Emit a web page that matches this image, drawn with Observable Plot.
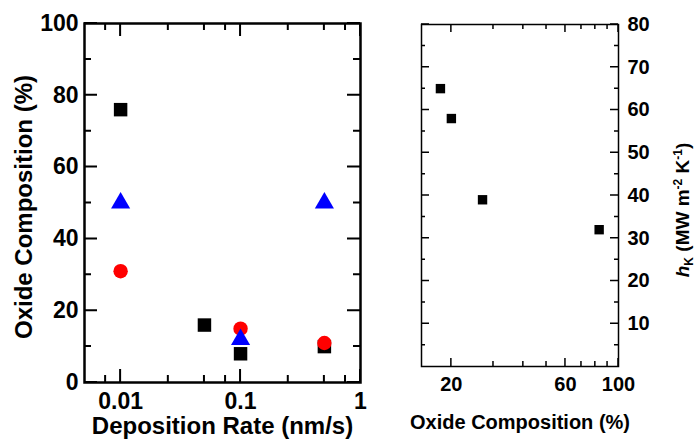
<!DOCTYPE html>
<html><head><meta charset="utf-8">
<script src="https://cdn.jsdelivr.net/npm/d3@7"></script>
<script src="https://cdn.jsdelivr.net/npm/@observablehq/plot@0.6"></script>
<style>
body{margin:0;background:#fff;}
#wrap{position:relative;width:697px;height:443px;overflow:hidden;background:#fff;}
#left,#right{position:absolute;top:0;}
#left{left:0;} #right{left:380px;}
</style></head><body>
<div id="wrap"><div id="left"></div><div id="right"></div></div>
<script>
// ---- Left panel data ----
const squareRate = [0.01, 0.05, 0.1, 0.5];
const squareComp = [76, 16, 8, 10];
const circleRate = [0.01, 0.1, 0.5];
const circleComp = [31, 15, 11];
const triRate = [0.01, 0.1, 0.5];
const triComp = [50, 12, 50];
const rateTicks = [0.01, 0.1, 1];
const rateMinor = [0.0075, 0.025, 0.05, 0.075, 0.25, 0.5, 0.75];
const compTicks = [0, 20, 40, 60, 80, 100];
const compMinor = [10, 30, 50, 70, 90];

// ---- Right panel data ----
const oxide = [18, 20, 27, 83];
const hK = [65, 58, 39, 32];
const oxideTicks = [20, 60, 100];
const oxideMinor = [30, 40, 50, 70, 80, 90];
const hTicks = [10, 20, 30, 40, 50, 60, 70, 80];
const hMinor = [5, 15, 25, 35, 45, 55, 65, 75];

const zip = (xs, ys) => xs.map((x, i) => ({x, y: ys[i]}));
const ident = d => d;
const fmt = d => `${d}`;

// ---- Left panel ----
const Lm = {top: 23, bottom: 61, left: 84, right: 40};
const leftSvg = Plot.plot({
  width: 400, height: 443,
  marginTop: Lm.top, marginBottom: Lm.bottom, marginLeft: Lm.left, marginRight: Lm.right,
  style: {fontFamily: "'Liberation Sans', Arial, sans-serif", fontSize: "23px", fontWeight: "bold", background: "white", color: "black", overflow: "visible"},
  x: {type: "log", domain: [0.005, 1], axis: null},
  y: {domain: [0, 100], axis: null},
  marks: [
    Plot.text(compTicks, {y: ident, text: fmt, frameAnchor: "left", textAnchor: "end", dx: -6, fontSize: 23, fontWeight: "bold"}),
    Plot.text(rateTicks, {x: ident, text: fmt, frameAnchor: "bottom", lineAnchor: "top", dy: 10, fontSize: 23, fontWeight: "bold"}),
    Plot.dot(zip(squareRate, squareComp), {x: "x", y: "y", symbol: "square", r: 7.6, fill: "black"}),
    Plot.dot(zip(circleRate, circleComp), {x: "x", y: "y", symbol: "circle", r: 7.2, fill: "#ff0000"}),
    Plot.dot(zip(triRate, triComp), {x: "x", y: "y", symbol: "triangle", r: 7.1, fill: "#0000ff"}),
    Plot.frame({stroke: "black", strokeWidth: 2.5}),
    Plot.text(["Deposition Rate (nm/s)"], {text: ident, frameAnchor: "bottom", lineAnchor: "bottom", dy: 51, fontSize: 24, fontWeight: "bold"}),
    Plot.text(["Oxide Composition (%)"], {text: ident, frameAnchor: "left", textAnchor: "middle", lineAnchor: "middle", rotate: -90, dx: -60, dy: 4, fontSize: 24, fontWeight: "bold"})
  ]
});
document.getElementById("left").appendChild(leftSvg);

// ---- Right panel ----
const Rm = {top: 24, bottom: 77, left: 41, right: 79};
const rightSvg = Plot.plot({
  width: 317, height: 443,
  marginTop: Rm.top, marginBottom: Rm.bottom, marginLeft: Rm.left, marginRight: Rm.right,
  style: {fontFamily: "'Liberation Sans', Arial, sans-serif", fontSize: "20px", fontWeight: "bold", background: "white", color: "black", overflow: "visible"},
  x: {type: "log", domain: [15, 100], axis: null},
  y: {domain: [0, 80], axis: null},
  marks: [
    Plot.text(hTicks, {y: ident, text: fmt, frameAnchor: "right", textAnchor: "start", dx: 9, fontSize: 20, fontWeight: "bold"}),
    Plot.text(oxideTicks, {x: ident, text: fmt, frameAnchor: "bottom", lineAnchor: "top", dy: 10, fontSize: 20, fontWeight: "bold"}),
    Plot.dot(zip(oxide, hK), {x: "x", y: "y", symbol: "square", r: 5.3, fill: "black"}),
    Plot.frame({stroke: "black", strokeWidth: 1.5}),
    Plot.text(["Oxide Composition (%)"], {text: ident, frameAnchor: "bottom", lineAnchor: "bottom", dy: 62, fontSize: 20, fontWeight: "bold"})
  ]
});
document.getElementById("right").appendChild(rightSvg);

// inward ticks drawn through each plot's own scales
function addTicks(svg, xMajor, xMinor, yMajor, yMinor, majLen, minLenX, minLenY, sw) {
  const sx = svg.scale("x"), sy = svg.scale("y");
  const [x0, x1] = sx.range, [y0, y1] = sy.range; // y0 = bottom, y1 = top
  let d = "";
  const vx = (vals, len) => vals.forEach(v => {
    const px = sx.apply(v);
    d += `M${px},${y0}V${y0 - len}M${px},${y1}V${y1 + len}`;
  });
  const vy = (vals, len) => vals.forEach(v => {
    const py = sy.apply(v);
    d += `M${x0},${py}H${x0 + len}M${x1},${py}H${x1 - len}`;
  });
  vx(xMajor, majLen); vx(xMinor, minLenX); vy(yMajor, majLen); vy(yMinor, minLenY);
  d3.select(svg).append("path").attr("d", d).attr("fill", "none")
    .attr("stroke", "#000").attr("stroke-width", sw).style("stroke", "#000");
}
addTicks(leftSvg, rateTicks, rateMinor, compTicks, compMinor, 13, 7, 7, 2);
addTicks(rightSvg, oxideTicks, oxideMinor, hTicks, hMinor, 8, 5, 4, 1.5);

// y-axis title with subscript / superscripts
const yt = d3.select(rightSvg).append("text")
  .attr("transform", "translate(302,210) rotate(-90)")
  .attr("text-anchor", "middle")
  .attr("y", "0.35em")
  .attr("font-size", 19)
  .attr("font-weight", "bold")
  .attr("fill", "black");
yt.append("tspan").attr("font-style", "italic").text("h");
yt.append("tspan").attr("font-size", 12).attr("dy", 4).text("K");
yt.append("tspan").attr("dy", -4).text(" (MW m");
yt.append("tspan").attr("font-size", 12).attr("dy", -7).text("-2");
yt.append("tspan").attr("dy", 7).text(" K");
yt.append("tspan").attr("font-size", 12).attr("dy", -7).text("-1");
yt.append("tspan").attr("dy", 7).text(")");
</script>
</body></html>
